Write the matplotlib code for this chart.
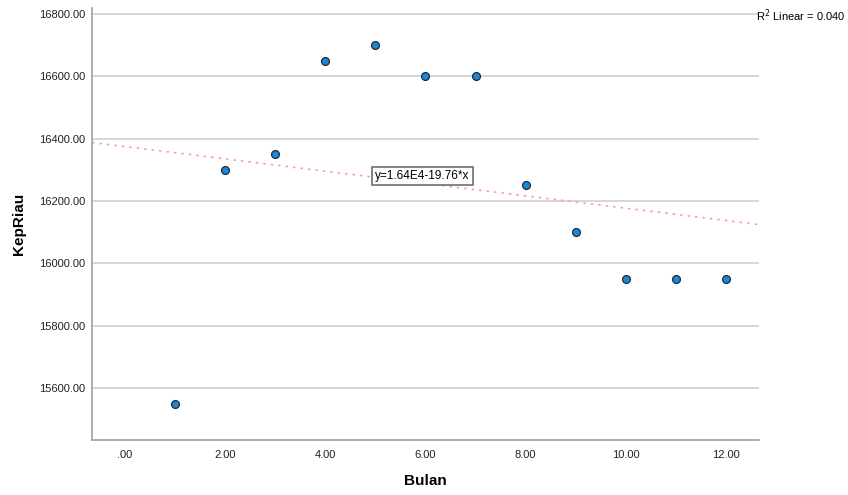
import numpy as np
import matplotlib
matplotlib.use("Agg")
import matplotlib.pyplot as plt
import matplotlib.ticker as mticker

bulan = [1, 2, 3, 4, 5, 6, 7, 8, 9, 10, 11, 12]
kep_riau = [15550, 16300, 16350, 16650, 16700, 16600, 16600,
            16250, 16100, 15950, 15950, 15950]
x_ticks = [0, 2, 4, 6, 8, 10, 12]
y_ticks = [15600, 15800, 16000, 16200, 16400, 16600, 16800]

plt.rcParams["font.family"] = ["Liberation Sans", "DejaVu Sans"]

fig = plt.figure(figsize=(8.48, 4.95), dpi=100)
ax = fig.add_axes([0.1085, 0.111, 0.7865, 0.873])

xlim = (-0.66, 12.66)
ax.set_xlim(*xlim)
ax.set_ylim(15433, 16819)

# regression line
slope, intercept = np.polyfit(bulan, kep_riau, 1)
pred = np.polyval([slope, intercept], bulan)
ss_res = np.sum((np.array(kep_riau) - pred) ** 2)
ss_tot = np.sum((np.array(kep_riau) - np.mean(kep_riau)) ** 2)
r2 = 1 - ss_res / ss_tot
xs = np.array(xlim)
ax.plot(xs, intercept + slope * xs, color="#f4a0a0", linestyle=(0, (1.5, 3)),
        linewidth=1.2, zorder=2)

ax.scatter(bulan, kep_riau, s=32, color="#1f86d6", edgecolor="#1b2b3c",
           linewidth=0.9, zorder=3)

ax.set_xticks(x_ticks)
ax.set_yticks(y_ticks)
ax.xaxis.set_major_formatter(mticker.FuncFormatter(
    lambda v, p: f"{v:.2f}".lstrip("0") if v < 1 else f"{v:.2f}"))
ax.yaxis.set_major_formatter(mticker.FormatStrFormatter("%.2f"))
ax.tick_params(length=0, labelsize=8, colors="#222222")
ax.tick_params(axis="x", pad=7)
ax.tick_params(axis="y", pad=5)

ax.grid(axis="y", color="#d0d0d0", linewidth=1.2)
ax.set_axisbelow(True)
for s in ("top", "right"):
    ax.spines[s].set_visible(False)
for s in ("left", "bottom"):
    ax.spines[s].set_color("#a0a0a0")
    ax.spines[s].set_linewidth(1.2)

ax.set_xlabel("Bulan", fontsize=11, fontweight="bold", labelpad=10)
ax.set_ylabel("KepRiau", fontsize=11, fontweight="bold", labelpad=9)

ax.text(5.0, 16280, f"y={intercept/1e4:.2f}E4{slope:.2f}*x", fontsize=8.5,
        va="center", ha="left",
        bbox=dict(boxstyle="square,pad=0.25", facecolor="white",
                  edgecolor="#707070", linewidth=1.2), zorder=4)

fig.text(0.997, 0.968, f"R$^2$ Linear = {r2:.3f}", fontsize=8, ha="right",
         va="center")

fig.savefig("out.png", dpi=100)
